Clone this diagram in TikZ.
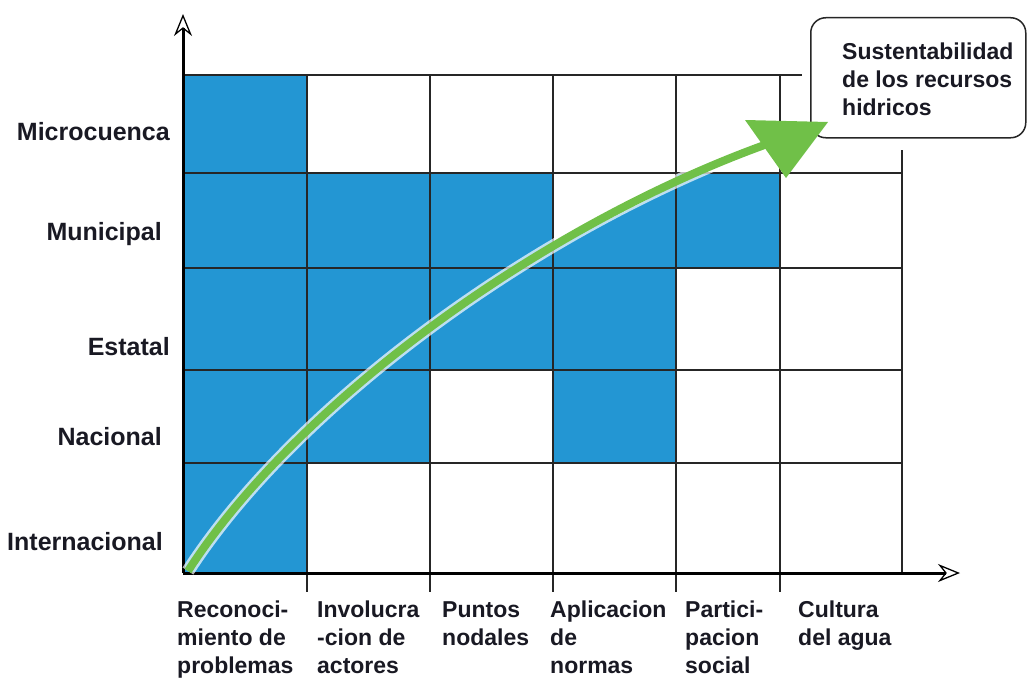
\documentclass[tikz,border=0pt]{standalone}
\usepackage{fontspec}
\setmainfont{Liberation Sans}
\usetikzlibrary{arrows.meta}
\definecolor{celdaazul}{RGB}{35,150,211}
\definecolor{verdeflecha}{RGB}{112,192,72}
\definecolor{tinta}{RGB}{25,25,35}
\tikzset{
	rejilla/.style={line width=2pt, color=black!85},
	eje/.style={line width=3pt, color=black, -{Stealth[open, length=22pt, width=18pt, line width=1.3pt]}},
	nivel/.style={anchor=base east, inner sep=0pt, color=tinta, font=\fontsize{25}{28}\selectfont\bfseries},
	etapa/.style={anchor=north west, align=left, inner sep=0pt, color=tinta, font=\fontsize{23}{28}\selectfont\bfseries},
}

\begin{document}
\begin{tikzpicture}[x=1pt, y=-1pt]
		\useasboundingbox (0,0) rectangle (1027,677);
		%%%%% START %%%%%
		
		% celdas azules
		\fill[celdaazul] (183,75) rectangle (307,573);
		\fill[celdaazul] (307,173) rectangle (430,463);
		\fill[celdaazul] (430,173) rectangle (553,370);
		\fill[celdaazul] (553,268) rectangle (676,463);
		\fill[celdaazul] (553,248) -- (676,185) -- (676,268) -- (553,268) -- cycle;
		\fill[celdaazul] (676,173) rectangle (780,268);
		
		% rejilla
		\draw[rejilla] (183,75) -- (802,75);
		\foreach \y in {173,268,370,463}
			\draw[rejilla] (183,\y) -- (902,\y);
		\foreach \x in {307,430,553,676,780}
			\draw[rejilla] (\x,75) -- (\x,592);
		\draw[rejilla] (902,150) -- (902,573);
		
		% ejes
		\coordinate (origen) at (183,573);
		\coordinate (ytope) at (183,14);
		\coordinate (xfin) at (960,573);
		\draw[eje] (origen) -- (ytope);
		\draw[eje] (origen) -- (xfin);
		
		% niveles
		\node[nivel] (microcuenca) at (170,140) {Microcuenca};
		\node[nivel] (municipal) at (162,240) {Municipal};
		\node[nivel] (estatal) at (170,355) {Estatal};
		\node[nivel] (nacional) at (162,445) {Nacional};
		\node[nivel] (internacional) at (163,550) {Internacional};
		
		% etapas
		\node[etapa] (reconocimiento) at (177,601) {Reconoci-\\miento de\\problemas};
		\node[etapa] (involucracion) at (317,601) {Involucra\\-cion de\\actores};
		\node[etapa] (puntos) at (442,601) {Puntos\\nodales};
		\node[etapa] (aplicacion) at (550,601) {Aplicacion\\de\\normas};
		\node[etapa] (participacion) at (685,601) {Partici-\\pacion\\social};
		\node[etapa] (cultura) at (798,601) {Cultura\\del agua};
		
		% meta
		\node[draw=black!85, fill=white, line width=1.5pt, rounded corners=15pt, anchor=north west,
			minimum width=215pt, minimum height=120pt] (meta) at (810,17) {};
		\node[etapa] (metatexto) at (842,43) {Sustentabilidad\\de los recursos\\hidricos};
		
		% flecha verde
		\draw[line width=13pt, white, opacity=0.7] (188,571) .. controls (295,405) and (540,225) .. (770,143);
		\draw[line width=8pt, verdeflecha] (188,571) .. controls (295,405) and (540,225) .. (770,143);
		\fill[verdeflecha] (745,120) -- (828,122) -- (786,178) -- cycle;
		
		%%%%% END %%%%%
\end{tikzpicture}
\end{document}
